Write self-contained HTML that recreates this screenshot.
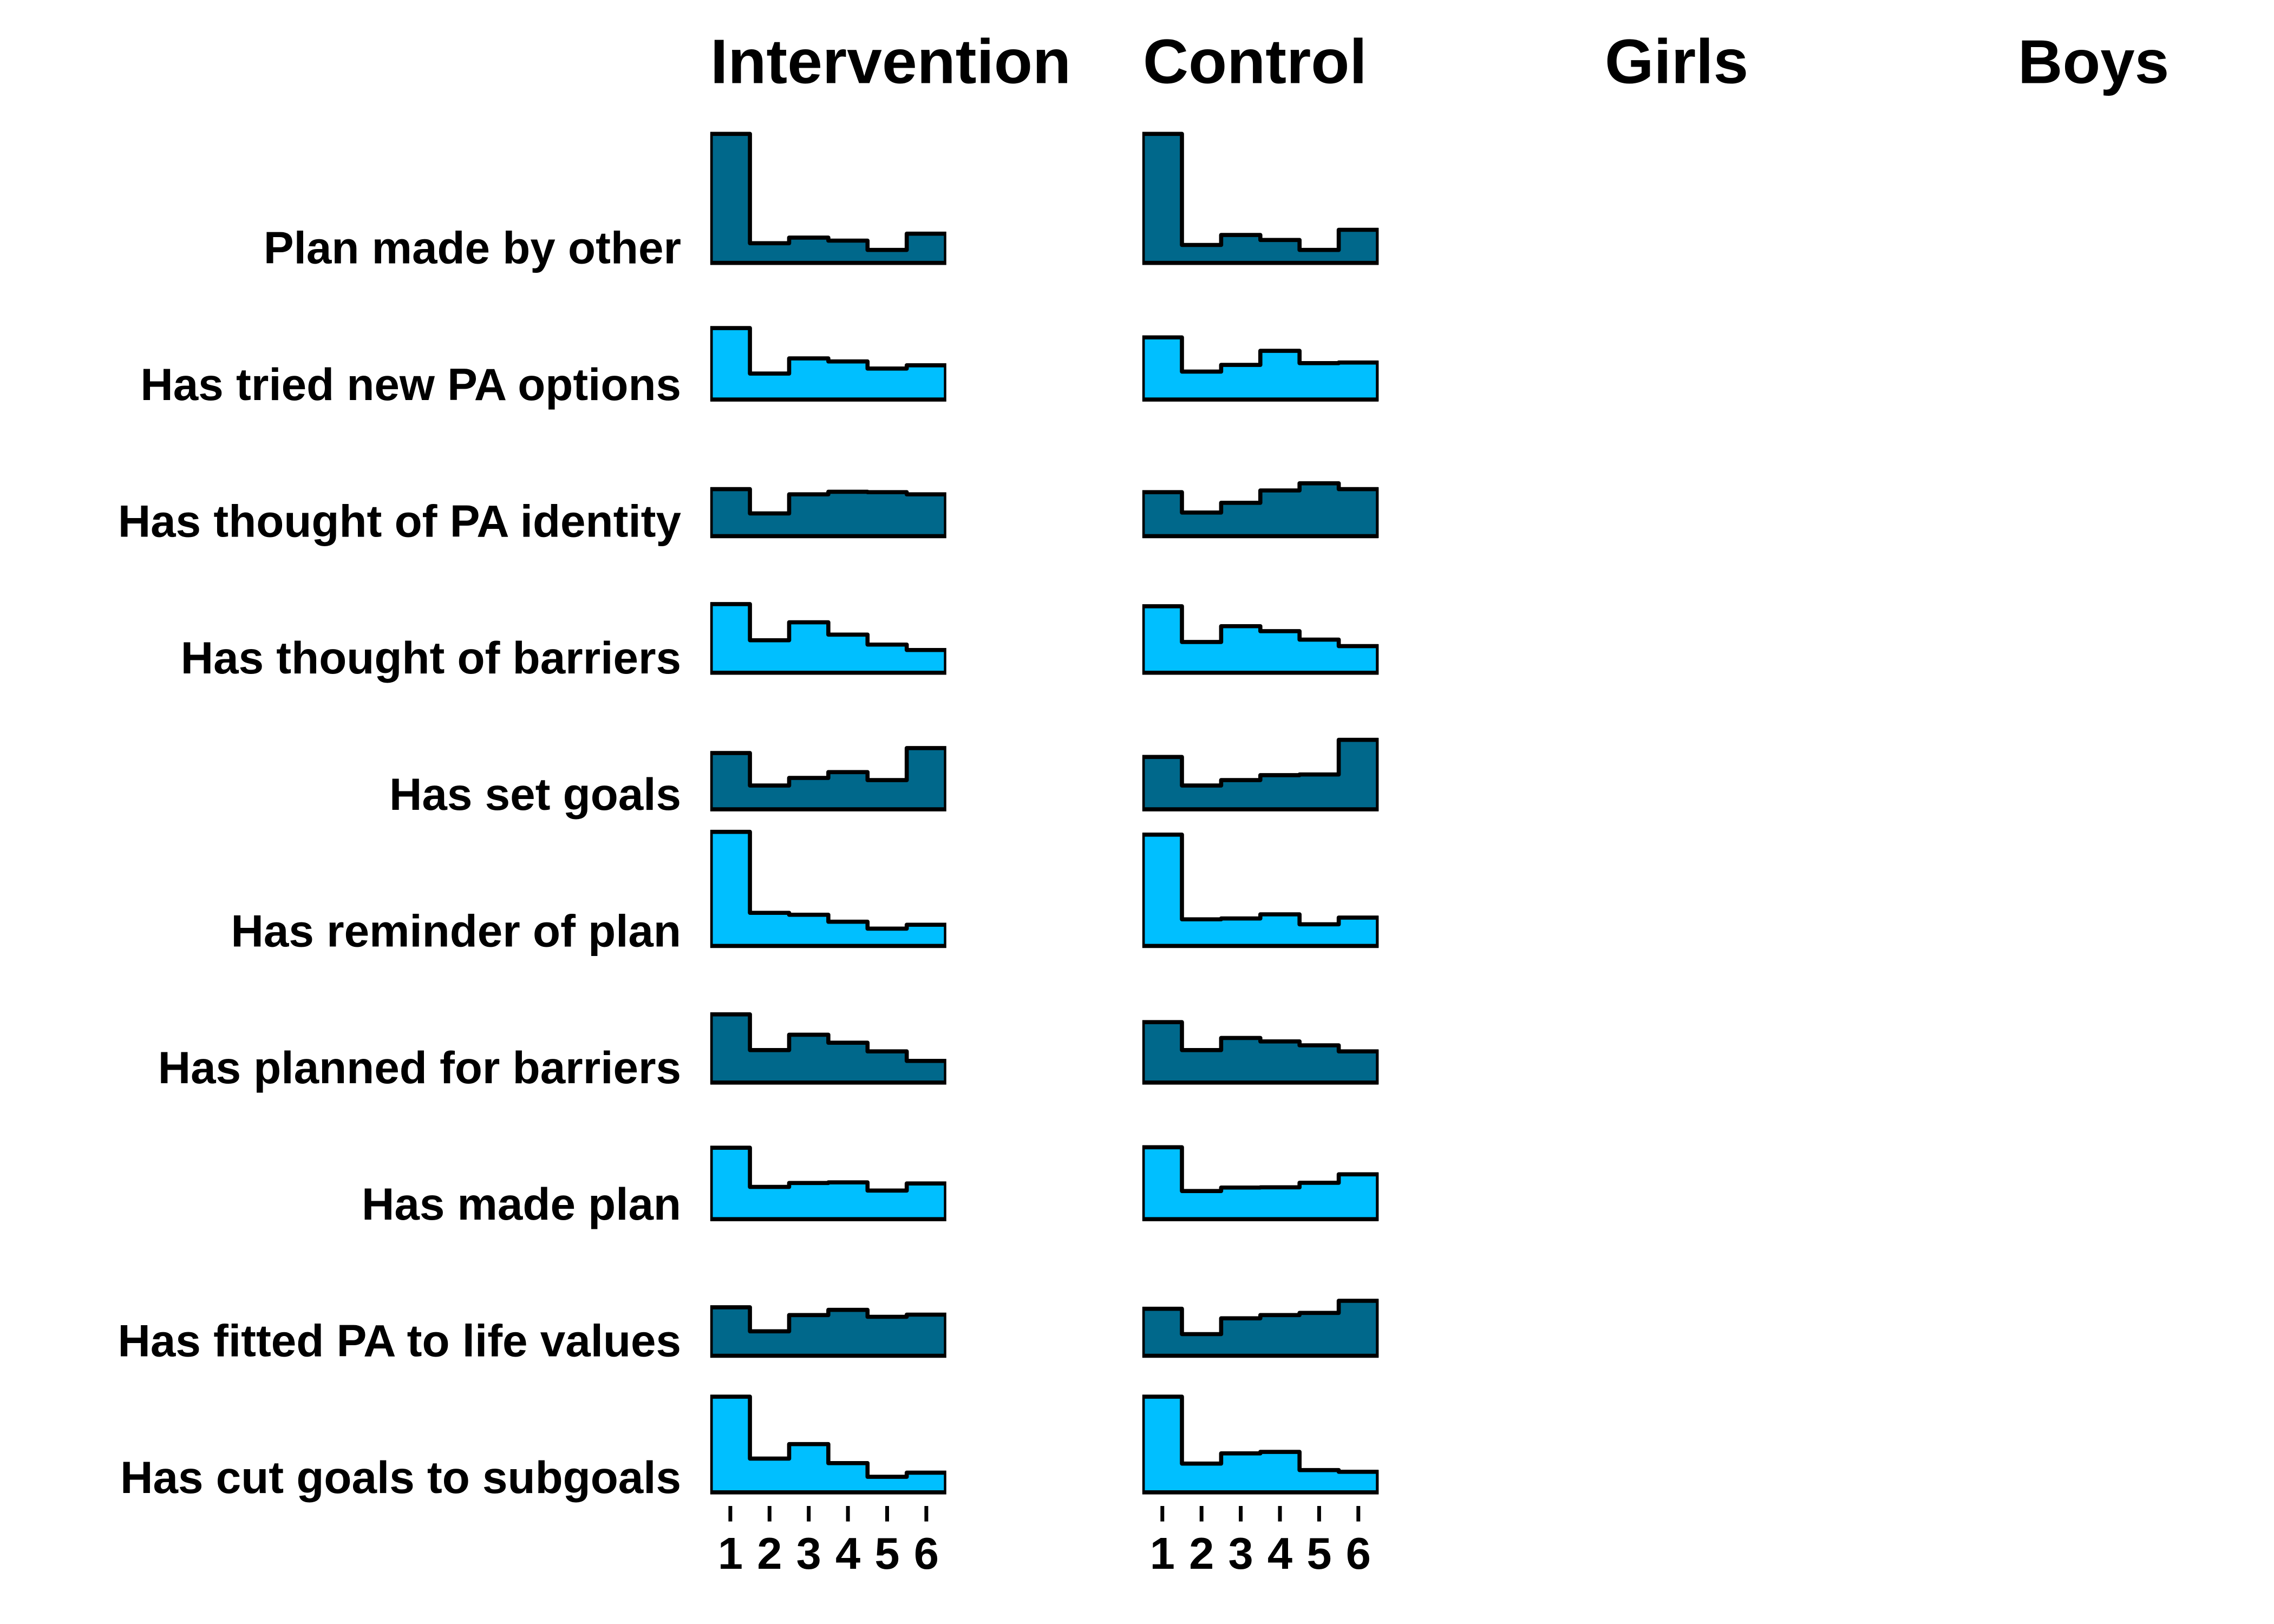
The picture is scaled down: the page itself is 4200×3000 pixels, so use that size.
<!DOCTYPE html>
<html lang="en">
<head>
<meta charset="utf-8">
<title>Item histograms</title>
<style>
html,body{margin:0;padding:0;background:#fff;}
svg{display:block;}
text{font-family:"Liberation Sans",sans-serif;font-weight:bold;fill:#000;}
</style>
</head>
<body>
<svg id="chart" xmlns="http://www.w3.org/2000/svg" width="4200" height="3000" viewBox="0 0 4200 3000">
<rect x="0" y="0" width="4200" height="3000" fill="#ffffff"/>
<defs>
<clipPath id="clip-intervention"><rect x="1311.8" y="0" width="436" height="3000"/></clipPath>
<clipPath id="clip-control"><rect x="2109.8" y="0" width="436.6" height="3000"/></clipPath>
</defs>
<text x="1312" y="153.6" font-size="116.4">Intervention</text>
<text x="2111" y="153.6" font-size="116.4">Control</text>
<text x="2964" y="153.6" font-size="116.4">Girls</text>
<text x="3727" y="153.6" font-size="114.2">Boys</text>
<g id="layer"></g>
</svg>
<script>
const rowLabels = ["Plan made by other","Has tried new PA options","Has thought of PA identity","Has thought of barriers","Has set goals","Has reminder of plan","Has planned for barriers","Has made plan","Has fitted PA to life values","Has cut goals to subgoals"];
const tickLabels = ["1","2","3","4","5","6"];
const intervention = [
  [59.6,9.1,11.7,10.3,6.0,13.5],
  [33.0,12.0,19.0,17.6,14.3,15.8],
  [21.7,10.5,19.3,20.5,20.3,19.3],
  [31.7,15.0,23.3,17.6,13.0,10.5],
  [26.0,11.0,14.5,17.2,13.5,28.3],
  [52.7,15.3,14.4,11.2,8.0,9.8],
  [31.5,15.0,22.1,18.4,14.4,10.0],
  [33.0,14.9,16.7,17.0,13.2,16.5],
  [22.4,11.3,18.8,21.2,18.0,19.0],
  [44.2,15.6,22.3,13.5,7.2,9.1]
];
const control = [
  [59.6,8.3,12.9,10.6,6.0,15.3],
  [28.7,12.9,16.0,22.5,16.8,17.1],
  [20.3,10.9,15.4,21.1,24.4,21.7],
  [30.7,14.2,21.5,19.2,15.3,12.3],
  [24.2,11.0,13.5,15.8,16.1,32.1],
  [51.4,12.3,12.7,14.6,10.0,13.1],
  [27.9,15.0,20.6,19.0,17.2,14.4],
  [33.2,13.0,14.6,14.7,16.8,20.7],
  [21.7,10.0,17.3,18.8,19.8,25.4],
  [44.2,13.3,18.0,18.7,10.3,9.5]
];

const NS = "http://www.w3.org/2000/svg";
const layer = document.getElementById("layer");
const binWidth = 72.4;
const yUnit = 4;
function baseY(row){ return 485.7 + 252.35 * row; }
function binLeft(panelLeft, bin){ return panelLeft + binWidth * bin; }
function binCentre(panelLeft, bin){ return panelLeft + binWidth * (bin + 0.5); }
function valueY(row, value){ return baseY(row) - value * yUnit; }
function rowColor(row){ return row % 2 === 0 ? "#00688B" : "#00BFFF"; }

function histogramPath(panelLeft, row, values){
  let d = "M" + binLeft(panelLeft, 0) + " " + baseY(row);
  values.forEach(function(v, i){
    d += "L" + binLeft(panelLeft, i) + " " + valueY(row, v);
    d += "L" + binLeft(panelLeft, i + 1) + " " + valueY(row, v);
  });
  d += "L" + binLeft(panelLeft, values.length) + " " + baseY(row) + "Z";
  return d;
}

function drawPanel(seriesName, panelLeft, clipId, seriesValues){
  seriesValues.forEach(function(values, row){
    const p = document.createElementNS(NS, "path");
    p.setAttribute("d", histogramPath(panelLeft, row, values));
    p.setAttribute("fill", rowColor(row));
    p.setAttribute("stroke", "#000");
    p.setAttribute("stroke-width", "7.6");
    p.setAttribute("stroke-linejoin", "round");
    p.setAttribute("clip-path", "url(#" + clipId + ")");
    
    
    layer.appendChild(p);
  });
  tickLabels.forEach(function(label, i){
    const x = binCentre(panelLeft, i);
    const t = document.createElementNS(NS, "line");
    t.setAttribute("x1", x);
    t.setAttribute("x2", x);
    t.setAttribute("y1", 2782);
    t.setAttribute("y2", 2810.6);
    t.setAttribute("stroke", "#000");
    t.setAttribute("stroke-width", "7");
    
    
    layer.appendChild(t);
    const n = document.createElementNS(NS, "text");
    n.setAttribute("x", x);
    n.setAttribute("y", 2898);
    n.setAttribute("font-size", "83");
    n.setAttribute("text-anchor", "middle");
    n.textContent = label;
    
    
    layer.appendChild(n);
  });
}

rowLabels.forEach(function(label, row){
  const t = document.createElementNS(NS, "text");
  t.setAttribute("x", 1258);
  t.setAttribute("y", baseY(row) + 1);
  t.setAttribute("font-size", "83.6");
  t.setAttribute("text-anchor", "end");
  t.textContent = label;
  
  
  layer.appendChild(t);
});
drawPanel("intervention", 1312.7, "clip-intervention", intervention);
drawPanel("control", 2110.6, "clip-control", control);
</script>
</body>
</html>
